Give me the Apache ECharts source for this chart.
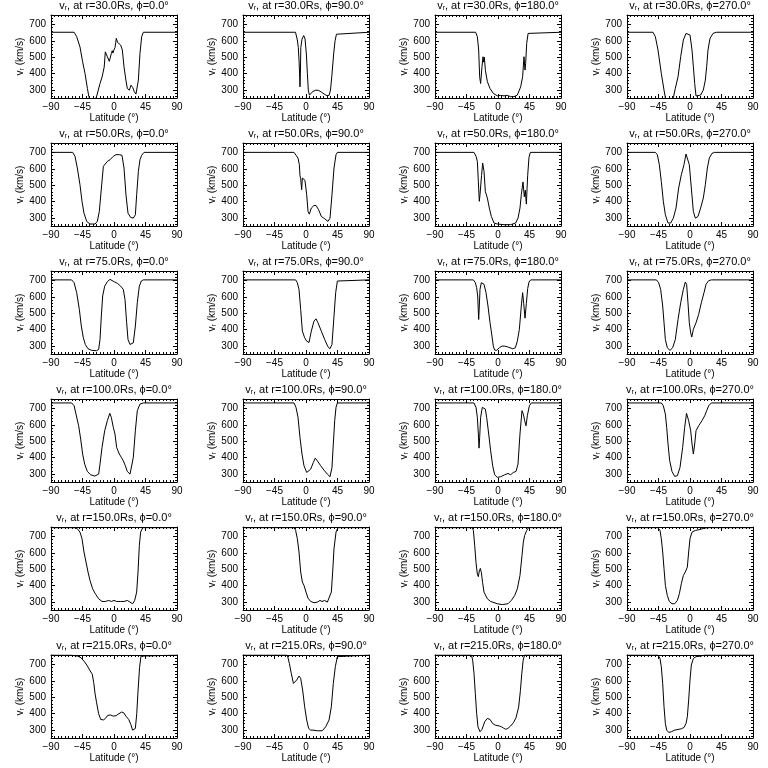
<!DOCTYPE html>
<html><head><meta charset="utf-8">
<script src="https://cdn.jsdelivr.net/npm/echarts@6/dist/echarts.min.js"></script>
<style>html,body{margin:0;padding:0;background:#fff}#c{width:768px;height:768px}</style>
</head><body><div id="c"></div>
<script>
const radii = [30, 50, 75, 100, 150, 215];
const phis = [0, 90, 180, 270];
const xTicks = [-90, -45, 0, 45, 90];
const yTicks = [300, 400, 500, 600, 700];
const yMinorTicks = [260, 280, 320, 340, 360, 380, 420, 440, 460, 480, 520, 540, 560, 580, 620, 640, 660, 680, 720, 740];

const r30_phi0 = [[-90,652],[-57,652],[-53.3,625],[-48.6,563],[-44.8,472],[-41.4,401],[-38,310],[-36,262],[-34,240],[-30,232],[-26.5,245],[-24.8,262],[-20,340],[-17,380],[-14,440],[-12.4,533],[-9.5,503],[-6.7,475],[-3.8,523],[-2.5,540],[-1.5,525],[0,545],[1.5,560],[3.3,615],[5.2,590],[7.1,594],[9.5,574],[11.9,544],[14.3,442],[17,361],[19,310],[21.9,300],[24.3,330],[26.7,316],[29,290],[31.4,276],[33.3,284],[34.8,361],[37.1,523],[39.5,625],[41.9,652],[90,652]];
const r30_phi90 = [[-90,652],[-15,652],[-12.4,605],[-11,560],[-9.8,470],[-9,380],[-8.6,320],[-8,400],[-7.4,560],[-5.7,610],[-3.3,632],[-1.4,612],[0.5,520],[2,400],[3.3,300],[4.8,270],[7,280],[10,292],[14,300],[18,298],[22,288],[26,276],[30,266],[33,268],[35,300],[37,390],[39.5,520],[41.5,600],[43.5,640],[45.5,652],[90,652]];
const r30_phi180 = [[-90,652],[-32,652],[-29.5,625],[-27.6,544],[-26.2,381],[-24.8,340],[-22.9,442],[-21.4,503],[-20.5,470],[-19.5,500],[-18,420],[-15.2,351],[-11.4,310],[-6.7,280],[-1,265],[3.8,268],[8.6,265],[13.3,268],[18,260],[22.9,260],[27.6,270],[32.4,320],[35.2,381],[37.1,503],[38.6,422],[39.5,462],[41,584],[43,645],[44.8,652],[90,652]];
const r30_phi270 = [[-90,652],[-52.9,652],[-49.5,625],[-45.7,544],[-41,402],[-37.1,300],[-35.2,253],[-33,235],[-27,232],[-23.8,253],[-21,310],[-17.1,381],[-13.3,503],[-9.5,605],[-5.7,645],[-2.9,650],[0,635],[2.9,544],[4.8,442],[6.7,340],[8.6,264],[11.4,264],[15.2,270],[19,300],[21.9,361],[23.8,442],[25.7,544],[28.6,615],[32.9,645],[37.6,652],[90,652]];

const r50_phi0 = [[-90,700],[-59,700],[-55.7,676],[-52.4,605],[-48.6,503],[-45.7,402],[-42.9,330],[-39,280],[-34.3,264],[-27.1,264],[-23.8,280],[-21,340],[-18,483],[-15.2,615],[-12.4,621],[-9.5,645],[-5.7,655],[-3.3,661],[-1,676],[2.9,686],[7.6,686],[11.4,682],[14.3,605],[17.1,442],[20,330],[23.8,304],[27.6,300],[30.5,320],[32.4,442],[34.8,584],[37.1,655],[39.5,682],[42.9,700],[90,700]];
const r50_phi90 = [[-90,700],[-17.1,700],[-14.3,696],[-11.4,665],[-9.5,625],[-8.6,560],[-7.6,540],[-6.2,473],[-5.2,544],[-3.5,556],[-1.5,530],[1,442],[2.9,340],[4.8,324],[7.6,361],[11.4,377],[14.3,377],[18,351],[21.9,310],[26.7,296],[31.4,280],[34.3,300],[37.1,442],[40,605],[42.9,686],[44.8,700],[90,700]];
const r50_phi180 = [[-90,700],[-34.3,700],[-31.4,676],[-29.5,645],[-28.1,523],[-26.7,402],[-25.7,442],[-23.5,560],[-21.9,635],[-20,584],[-18.1,462],[-15.2,422],[-12.4,361],[-9.5,310],[-5.7,270],[-1,264],[8.6,260],[18,260],[25.2,270],[28.6,300],[31.4,361],[33.3,442],[35.7,520],[37.6,430],[39,470],[40.5,385],[42.4,560],[44.3,670],[46.2,700],[90,700]];
const r50_phi270 = [[-90,700],[-49.5,700],[-46.7,686],[-43.8,625],[-41,523],[-38.1,402],[-35.2,320],[-31.4,270],[-27.6,270],[-23.8,300],[-20,361],[-16.2,483],[-12.4,564],[-8.6,625],[-5.7,690],[-3.8,686],[-1,625],[1.9,483],[4.8,340],[7.6,300],[11.4,310],[15.2,361],[19,422],[21.9,503],[24.8,605],[27.6,665],[31.4,694],[35.2,700],[90,700]];

const r75_phi0 = [[-90,703],[-60.5,703],[-57,686],[-53.3,625],[-49.5,523],[-46.7,422],[-43.8,351],[-41,310],[-37.1,284],[-31.9,274],[-24.8,272],[-21.9,280],[-20,340],[-18.1,483],[-16.2,605],[-13.3,665],[-9.5,692],[-5.7,706],[-2.9,702],[1,690],[4.8,682],[9.5,665],[13.3,645],[15.7,584],[18.1,442],[20,340],[22.9,310],[25.7,300],[27.6,320],[30.5,422],[33.3,564],[36.2,665],[39,696],[41.9,703],[90,703]];
const r75_phi90 = [[-90,703],[-14.8,703],[-12.4,686],[-10,645],[-7.6,523],[-5.2,391],[-1.9,351],[1,330],[4.3,322],[7.6,391],[11.4,452],[14.3,466],[17.1,442],[21.9,391],[26.7,340],[31.4,296],[34.3,284],[37.1,310],[40,483],[42.4,625],[44.8,696],[46.7,703],[90,703]];
const r75_phi180 = [[-90,703],[-35.2,703],[-32.4,686],[-30.5,655],[-29,605],[-27.6,462],[-26.7,544],[-25.7,645],[-23.8,686],[-21.9,694],[-20,676],[-17.1,625],[-14.3,544],[-11.4,442],[-8.6,361],[-6.7,300],[-4.8,276],[-1.9,274],[1.9,290],[5.7,300],[9.5,300],[13.3,296],[17.1,290],[21,284],[24.8,290],[27.6,330],[30.5,402],[33.3,544],[35.2,625],[36.7,560],[38.6,470],[40.5,560],[42.4,650],[44.3,690],[46.7,703],[90,703]];
const r75_phi270 = [[-90,703],[-48,703],[-44.8,686],[-41.9,645],[-39,544],[-37.1,442],[-35.2,340],[-32.4,290],[-28.6,274],[-24.8,290],[-21,340],[-17.1,462],[-13.3,564],[-9.5,645],[-6.7,690],[-4.8,676],[-2.9,564],[-1,442],[1,381],[2.5,355],[4.8,402],[8.6,442],[12.4,493],[16.2,564],[20,625],[22.9,676],[26.7,698],[30.5,703],[90,703]];

const r100_phi0 = [[-90,733],[-60.5,733],[-57,716],[-54.3,665],[-50.5,594],[-47.6,513],[-44.8,422],[-41.9,361],[-38.1,316],[-33.3,296],[-27.6,288],[-21.9,300],[-20,361],[-17.1,462],[-13.3,564],[-9.5,625],[-6,670],[-3.8,645],[-1,584],[1.4,544],[3.8,462],[5.7,442],[7.6,422],[10.5,402],[13.3,381],[16.2,351],[19,316],[22.9,300],[25.7,310],[27.6,402],[30.5,564],[33.3,686],[37.1,726],[41.9,733],[90,733]];
const r100_phi90 = [[-90,733],[-17.1,733],[-14.3,706],[-11.4,645],[-8.6,523],[-5.7,422],[-2.9,351],[1,310],[3.8,300],[6.7,330],[10.5,371],[13.3,397],[16.2,381],[21,351],[25.7,324],[30.5,300],[34.3,284],[37.1,340],[39,483],[41,625],[42.9,706],[44.8,733],[90,733]];
const r100_phi180 = [[-90,733],[-34.3,733],[-31.4,706],[-29.5,645],[-28.1,544],[-27.1,458],[-26.2,523],[-24.8,645],[-22.4,706],[-20,716],[-18.1,696],[-16.2,645],[-13.3,544],[-10.5,442],[-7.6,351],[-4.8,296],[-1,280],[3.8,284],[9.5,296],[14.3,304],[18,296],[21.9,310],[25.7,316],[28.6,361],[31.4,544],[34.3,686],[36.2,665],[38.1,625],[40,594],[41.9,655],[44.8,716],[47.6,733],[90,733]];
const r100_phi270 = [[-90,733],[-41,733],[-38.1,716],[-35.2,665],[-33.3,584],[-31.4,483],[-29,381],[-25.7,316],[-21.9,286],[-18.1,290],[-14.3,340],[-10.5,462],[-7.6,584],[-5,670],[-1.9,625],[1,564],[2.9,483],[4.8,422],[6.7,483],[8.6,564],[12.4,594],[17.1,625],[21,655],[23.8,686],[26.7,716],[30.5,733],[90,733]];

const r150_phi0 = [[-90,753],[-55.7,753],[-52.4,747],[-48.6,726],[-45.7,686],[-42.9,605],[-40,544],[-37.1,483],[-34.3,432],[-30.5,381],[-26.7,351],[-21.9,320],[-17.1,304],[-12.4,304],[-7.6,310],[-3.8,304],[0,310],[3.8,304],[9.5,304],[14.3,304],[19,310],[22.9,300],[26.7,290],[29.5,310],[32.4,361],[34.3,483],[36.2,645],[38.1,726],[41,753],[90,753]];
const r150_phi90 = [[-90,753],[-17,753],[-14.8,736],[-12.4,686],[-10,605],[-7.6,483],[-5.2,422],[-2.9,402],[0,361],[2.9,324],[6.7,304],[11.4,296],[16.2,300],[20,310],[22.9,304],[26.7,310],[30.5,300],[33.3,304],[36.2,361],[38.1,483],[40,625],[42.9,726],[45.7,753],[90,753]];
const r150_phi180 = [[-90,753],[-36.7,753],[-35.2,736],[-33.3,645],[-31.4,540],[-29.5,470],[-28.1,455],[-26.7,490],[-25.2,505],[-23.8,480],[-22,420],[-20,361],[-15.2,320],[-10.5,304],[-1,290],[6.2,285],[14.3,290],[19,310],[23.8,340],[27.6,381],[31.4,462],[34.3,584],[36.2,665],[38.1,706],[41,736],[43.8,753],[90,753]];
const r150_phi270 = [[-90,753],[-45.7,753],[-42.9,736],[-41,686],[-39,605],[-37.1,503],[-35.2,402],[-32.4,340],[-29.5,304],[-25.7,290],[-21.9,290],[-18.1,310],[-15.2,351],[-12.4,412],[-9.5,462],[-6.7,483],[-3.8,513],[-1.9,605],[0,686],[2.9,726],[7.6,736],[14.3,742],[21,751],[28,753],[90,753]];

const r215_phi0 = [[-90,757],[-60,756],[-52,750],[-47,740],[-42,715],[-38,690],[-34,660],[-31,640],[-29,590],[-27,520],[-25,470],[-22,400],[-19,365],[-15,362],[-12,372],[-9,390],[-5,392],[-1,385],[3,388],[7,400],[11,410],[14,405],[17,385],[21,365],[24,335],[26.5,300],[28.5,295],[30.5,310],[32.5,400],[34.5,550],[36.5,680],[38.5,750],[40,757],[90,757]];
const r215_phi90 = [[-90,757],[-27,757],[-25.7,740],[-23.8,706],[-21,645],[-18,584],[-16.2,574],[-13.3,605],[-10,629],[-7.6,615],[-4.8,544],[-1.9,442],[1,361],[3.8,310],[6.7,300],[10,300],[16.2,296],[23.3,296],[28.1,320],[32.9,361],[36.2,442],[39,584],[41.9,686],[44.8,747],[47.6,757],[90,757]];
const r215_phi180 = [[-90,757],[-38,757],[-36.2,726],[-34.3,645],[-32.4,523],[-30.5,402],[-28.6,320],[-25.7,290],[-22.9,304],[-19,351],[-15.2,371],[-11.4,365],[-7.6,340],[-3.8,330],[-1,324],[1.9,325],[5,320],[8,312],[11,305],[14,310],[18,325],[22,345],[25.7,375],[29.5,440],[32,540],[34,645],[36,726],[38,757],[90,757]];
const r215_phi270 = [[-90,757],[-45.7,757],[-42.9,736],[-41,686],[-39,584],[-37.1,442],[-35.2,340],[-33.3,300],[-30.5,286],[-26.7,290],[-21.9,300],[-17.1,304],[-12.4,308],[-8.6,316],[-5.7,340],[-3.8,381],[-1.9,483],[0,605],[1.9,696],[4.8,736],[8.6,747],[16.2,751],[21,757],[90,757]];

const panelData = [
  [r30_phi0, r30_phi90, r30_phi180, r30_phi270],
  [r50_phi0, r50_phi90, r50_phi180, r50_phi270],
  [r75_phi0, r75_phi90, r75_phi180, r75_phi270],
  [r100_phi0, r100_phi90, r100_phi180, r100_phi270],
  [r150_phi0, r150_phi90, r150_phi180, r150_phi270],
  [r215_phi0, r215_phi90, r215_phi180, r215_phi270]
];

const Y_MIN = 252, Y_MAX = 757;
const FONT = 'Liberation Sans';
const BLACK = '#000';
const minusFmt = v => String(v).replace('-', '\u2212');

const chart = echarts.init(document.getElementById('c'), null, {renderer: 'canvas'});
const grids = [], xAxes = [], yAxes = [], series = [], titles = [];

radii.forEach((r, ri) => {
  phis.forEach((p, ci) => {
    const k = grids.length;
    const left = 51 + 192 * ci, top = 15 + 128 * ri;
    grids.push({left: left, top: top, width: 126, height: 83, containLabel: false});
    titles.push({
      text: 'v{s|r}, at r=' + r.toFixed(1) + 'Rs, \u03D5=' + p.toFixed(1) + '\u00B0',
      left: left + 63, top: top - 15, textAlign: 'center', padding: 0,
      textStyle: {fontSize: 11, fontWeight: 'normal', color: BLACK, fontFamily: FONT,
        rich: {s: {fontSize: 7, color: BLACK, fontFamily: FONT, padding: [5, 0, 0, 0]}}}
    });
    const xCommon = {
      gridIndex: k, type: 'value', min: xTicks[0], max: xTicks[xTicks.length - 1], interval: 45,
      axisLine: {show: true, onZero: false, lineStyle: {color: BLACK, width: 1}},
      axisTick: {show: true, inside: true, length: 4, lineStyle: {color: BLACK, width: 1}},
      minorTick: {show: true, splitNumber: 9, length: 2, lineStyle: {color: BLACK, width: 1}},
      splitLine: {show: false}
    };
    xAxes.push(Object.assign({}, xCommon, {
      position: 'bottom',
      axisLabel: {show: true, color: BLACK, fontSize: 10, fontFamily: FONT, margin: 4, formatter: minusFmt},
      name: 'Latitude (\u00B0)', nameLocation: 'middle', nameGap: 15,
      nameTextStyle: {color: BLACK, fontSize: 10, fontFamily: FONT}
    }));
    xAxes.push(Object.assign({}, xCommon, {position: 'top', axisLabel: {show: false}}));
    const yBase = {gridIndex: k, type: 'value', min: Y_MIN, max: Y_MAX, splitLine: {show: false}};
    yAxes.push(Object.assign({}, yBase, {
      position: 'left',
      axisLine: {show: true, onZero: false, lineStyle: {color: BLACK, width: 1}},
      axisTick: {show: true, inside: true, length: 4, customValues: yTicks, lineStyle: {color: BLACK, width: 1}},
      axisLabel: {show: true, customValues: yTicks, color: BLACK, fontSize: 10, fontFamily: FONT, margin: 5},
      name: 'v{s|r} (km/s)', nameLocation: 'middle', nameGap: 23,
      nameTextStyle: {color: BLACK, fontSize: 10, fontFamily: FONT, rich: {s: {fontSize: 7, color: BLACK, fontFamily: FONT, padding: [4, 0, 0, 0]}}}
    }));
    yAxes.push(Object.assign({}, yBase, {
      position: 'left', axisLine: {show: false, onZero: false}, axisLabel: {show: false},
      axisTick: {show: true, inside: true, length: 2, customValues: yMinorTicks, lineStyle: {color: BLACK, width: 1}}
    }));
    yAxes.push(Object.assign({}, yBase, {
      position: 'right',
      axisLine: {show: true, onZero: false, lineStyle: {color: BLACK, width: 1}},
      axisLabel: {show: false},
      axisTick: {show: true, inside: true, length: 4, customValues: yTicks, lineStyle: {color: BLACK, width: 1}}
    }));
    yAxes.push(Object.assign({}, yBase, {
      position: 'right', axisLine: {show: false, onZero: false}, axisLabel: {show: false},
      axisTick: {show: true, inside: true, length: 2, customValues: yMinorTicks, lineStyle: {color: BLACK, width: 1}}
    }));
    series.push({
      type: 'line', xAxisIndex: 2 * k, yAxisIndex: 4 * k, data: panelData[ri][ci],
      symbol: 'none', showSymbol: false, clip: true, silent: true, animation: false,
      lineStyle: {color: BLACK, width: 1}
    });
  });
});

chart.setOption({
  backgroundColor: '#fff', animation: false,
  title: titles, grid: grids, xAxis: xAxes, yAxis: yAxes, series: series
});
</script>
</body></html>
